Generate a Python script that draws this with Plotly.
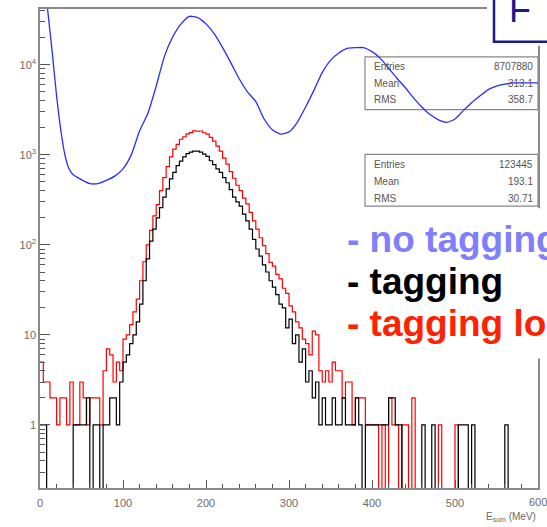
import numpy as np
import plotly.graph_objects as go

# ---------------- data ----------------
BIN_W = 4  # MeV per histogram bin

# "no tagging" spectrum (blue), sampled along its curve
blue_e = [0, 5, 10, 15, 20, 25, 30, 35, 40, 50, 60, 70, 80, 90, 100, 110, 120,
          130, 140, 150, 160, 170, 180, 190, 200, 210, 220, 230, 240, 250, 260,
          270, 280, 290, 300, 310, 320, 330, 340, 350, 360, 370, 380, 390, 400,
          410, 420, 430, 440, 450, 460, 470, 480, 490, 500, 510, 520, 530, 540,
          550, 560, 570, 580, 590, 600]
blue_counts = [200000, 90000, 35000, 13000, 4500, 1900, 1000, 700, 600, 530, 480,
               480, 520, 580, 700, 1000, 1850, 2900, 5800, 12500, 20500, 28500,
               34500, 33500, 28500, 22000, 15500, 10500, 7000, 5000, 3900, 2500,
               1900, 1700, 1800, 2300, 3400, 5200, 8200, 11200, 13500, 15200,
               15500, 15500, 14000, 11800, 9200, 7100, 5600, 4300, 3400, 2800,
               2450, 2300, 2500, 3100, 3800, 4500, 5300, 5800, 6100, 6300, 6300,
               6300, 6300]

# "tagging low" spectrum (red), 4 MeV bins from 0 to 600 MeV
red_counts = [
    5, 3, 3, 2, 2, 1, 2, 2, 1, 3,
    1, 1, 3, 2, 1, 2, 2, 2, 1, 4,
    7, 6, 3, 5, 4, 9, 10, 13, 18, 25,
    40, 65, 100, 145, 210, 280, 400, 560, 740, 950,
    1160, 1310, 1490, 1590, 1710, 1770, 1850, 1830, 1840, 1760,
    1700, 1560, 1420, 1250, 1100, 920, 790, 650, 550, 460,
    400, 330, 285, 230, 185, 150, 120, 98, 80, 64,
    58, 47, 42, 33, 29, 21, 18, 14, 12, 9,
    8, 6, 11, 10, 4, 3, 4, 3, 5, 4,
    4, 2, 3, 3, 1, 2, 2, 2, 1, 1,
    1, 1, 0, 1, 0, 2, 1, 1, 0, 1,
    1, 0, 2, 0, 0, 0, 0, 0, 0, 0,
    1, 0, 0, 0, 0, 1, 0, 0, 0, 0,
    0, 0, 0, 0, 0, 0, 0, 0, 0, 0,
    0, 0, 0, 0, 0, 0, 0, 0, 0, 0,
]

# "tagging" spectrum (black), 4 MeV bins from 0 to 600 MeV
black_counts = [
    1, 1, 0, 0, 0, 0, 0, 0, 0, 0,
    1, 1, 1, 1, 2, 0, 1, 1, 0, 1,
    1, 2, 2, 1, 3, 5, 6, 8, 10, 14,
    22, 40, 70, 110, 150, 200, 260, 340, 420, 540,
    640, 760, 850, 950, 1030, 1070, 1100, 1100, 1070, 1020,
    960, 860, 780, 700, 640, 560, 490, 410, 340, 300,
    270, 220, 185, 150, 115, 90, 75, 60, 50, 40,
    34, 28, 22, 20, 12, 15, 8, 10, 5, 7,
    3, 4, 2, 3, 1, 2, 1, 1, 2, 1,
    1, 2, 1, 1, 1, 2, 1, 0, 1, 1,
    1, 1, 1, 1, 1, 2, 2, 1, 1, 0,
    0, 0, 0, 0, 0, 1, 0, 0, 1, 0,
    0, 0, 0, 0, 0, 0, 1, 1, 1, 0,
    1, 0, 0, 0, 0, 0, 0, 0, 0, 0,
    1, 0, 0, 0, 0, 0, 0, 0, 0, 0,
]

x_ticks = [0, 100, 200, 300, 400, 500, 600]
x_ticktext = ["0", "100", "200", "300", "400", "500", "600"]
y_ticks = [1, 10, 100, 1000, 10000]
y_ticktext = ["1", "10", "10<sup>2</sup>", "10<sup>3</sup>", "10<sup>4</sup>"]

stats_nt = [("Entries", "8707880"), ("Mean", "313.1"), ("RMS", "358.7")]
stats_t = [("Entries", "123445"), ("Mean", "193.1"), ("RMS", "30.71")]

legend_lines = [("- no tagging", "#7f7fff"), ("- tagging", "#000000"),
                ("- tagging lo", "#ff2200")]

# ---------------- figure ----------------
W, H = 547, 527
ML, MR, MT, MB = 40, 9, 7, 39
PW, PH = W - ML - MR, H - MT - MB


def px(x):
    return (x - ML) / PW


def py(y):
    return (H - MB - y) / PH


FLOOR = 1e-3  # empty bins drop below the axis


def step_xy(counts):
    edges = np.arange(len(counts) + 1) * BIN_W
    y = list(counts) + [counts[-1]]
    y = [c if c > 0 else FLOOR for c in y]
    return edges, y


fig = go.Figure()
fig.add_trace(go.Scatter(x=blue_e, y=blue_counts, mode="lines",
                         line=dict(color="#2b2bff", width=1.3, shape="spline",
                                   smoothing=0.6), hoverinfo="skip"))
xr, yr = step_xy(red_counts)
fig.add_trace(go.Scatter(x=xr, y=yr, mode="lines",
                         line=dict(color="#ff0000", width=1.2, shape="hv"),
                         hoverinfo="skip"))
xb, yb = step_xy(black_counts)
fig.add_trace(go.Scatter(x=xb, y=yb, mode="lines",
                         line=dict(color="#000000", width=1.2, shape="hv"),
                         hoverinfo="skip"))

minor_y = [m * 10 ** d for d in range(-1, 5) for m in range(2, 10)]

axis_col = "#8a8a8a"
tick_font = dict(family="Liberation Sans, Arial", size=11, color="#6a6a6a")

fig.update_layout(
    width=W, height=H, autosize=False,
    margin=dict(l=ML, r=MR, t=MT, b=MB, pad=0),
    paper_bgcolor="white", plot_bgcolor="white",
    showlegend=False,
    xaxis=dict(range=[0, 600], showgrid=False, zeroline=False,
               showline=True, linecolor=axis_col, linewidth=1.5, mirror=True,
               ticks="inside", ticklen=8, tickwidth=1, tickcolor="#555",
               tickvals=x_ticks[:-1], ticktext=x_ticktext[:-1],
               tickfont=tick_font, ticklabelstandoff=4,
               minor=dict(ticks="inside", ticklen=4, dtick=20,
                          tickcolor="#555", showgrid=False)),
    yaxis=dict(type="log", range=[-0.70, 4.62], showgrid=False, zeroline=False,
               showline=True, linecolor=axis_col, linewidth=1.5, mirror=True,
               ticks="inside", ticklen=10, tickwidth=1, tickcolor="#555",
               tickvals=y_ticks, ticktext=y_ticktext, tickfont=tick_font,
               minor=dict(ticks="inside", ticklen=5, tickvals=minor_y,
                          tickcolor="#555", showgrid=False)),
)

shapes = []
# stats boxes
for (y0, y1) in [(55, 108), (153, 205)]:
    shapes.append(dict(type="rect", xref="paper", yref="paper",
                       x0=px(365), x1=px(538), y0=py(y1), y1=py(y0),
                       line=dict(color="#888", width=1.2),
                       fillcolor="white", layer="below"))
# white area behind the legend text
shapes.append(dict(type="rect", xref="paper", yref="paper",
                   x0=px(327), x1=px(560), y0=py(358), y1=py(207),
                   line=dict(width=0), fillcolor="white", layer="above"))
# title box fragment at top-right
shapes.append(dict(type="rect", xref="paper", yref="paper",
                   x0=px(487), x1=px(560), y0=py(44), y1=py(-10),
                   line=dict(width=0), fillcolor="white", layer="above"))
shapes.append(dict(type="rect", xref="paper", yref="paper",
                   x0=px(494), x1=px(570), y0=py(40), y1=py(-10),
                   line=dict(color="#1a1a8c", width=2.5), fillcolor="white",
                   layer="above"))
fig.update_layout(shapes=shapes)

ann = []
stat_font = dict(family="Liberation Sans, Arial", size=10, color="#555")
for rows, ys in [(stats_nt, [65, 82, 98]), (stats_t, [163, 180, 197])]:
    for (lab, val), yy in zip(rows, ys):
        ann.append(dict(xref="paper", yref="paper", x=px(372), y=py(yy),
                        xanchor="left", yanchor="middle", text=lab,
                        showarrow=False, font=stat_font))
        ann.append(dict(xref="paper", yref="paper", x=px(535), y=py(yy),
                        xanchor="right", yanchor="middle", text=val,
                        showarrow=False, font=stat_font))

for (txt, col), yy in zip(legend_lines, [238, 281, 323]):
    ann.append(dict(xref="paper", yref="paper", x=px(345), y=py(yy),
                    xanchor="left", yanchor="middle", text="<b>" + txt + "</b>",
                    showarrow=False,
                    font=dict(family="Liberation Sans, Arial", size=37,
                              color=col)))

# last x tick label (partly outside the page, as in the picture)
ann.append(dict(xref="x", yref="paper", x=x_ticks[-1], y=py(502),
                xanchor="center", yanchor="middle", text=x_ticktext[-1],
                showarrow=False, font=tick_font))

ann.append(dict(xref="paper", yref="paper", x=px(507), y=py(8),
                xanchor="left", yanchor="middle", text="F", showarrow=False,
                font=dict(family="Liberation Sans, Arial", size=36,
                          color="#1a1a8c")))
ann.append(dict(xref="paper", yref="paper", x=px(538), y=py(517),
                xanchor="right", yanchor="middle",
                text="E<sub>sum</sub> (MeV)", showarrow=False,
                font=dict(family="Liberation Sans, Arial", size=10,
                          color="#6a6a6a")))
fig.update_layout(annotations=ann)

fig.write_html("out.html", config={"displayModeBar": False},
               post_script="document.body.style.margin='0';"
                           "document.body.style.overflow='hidden';")
